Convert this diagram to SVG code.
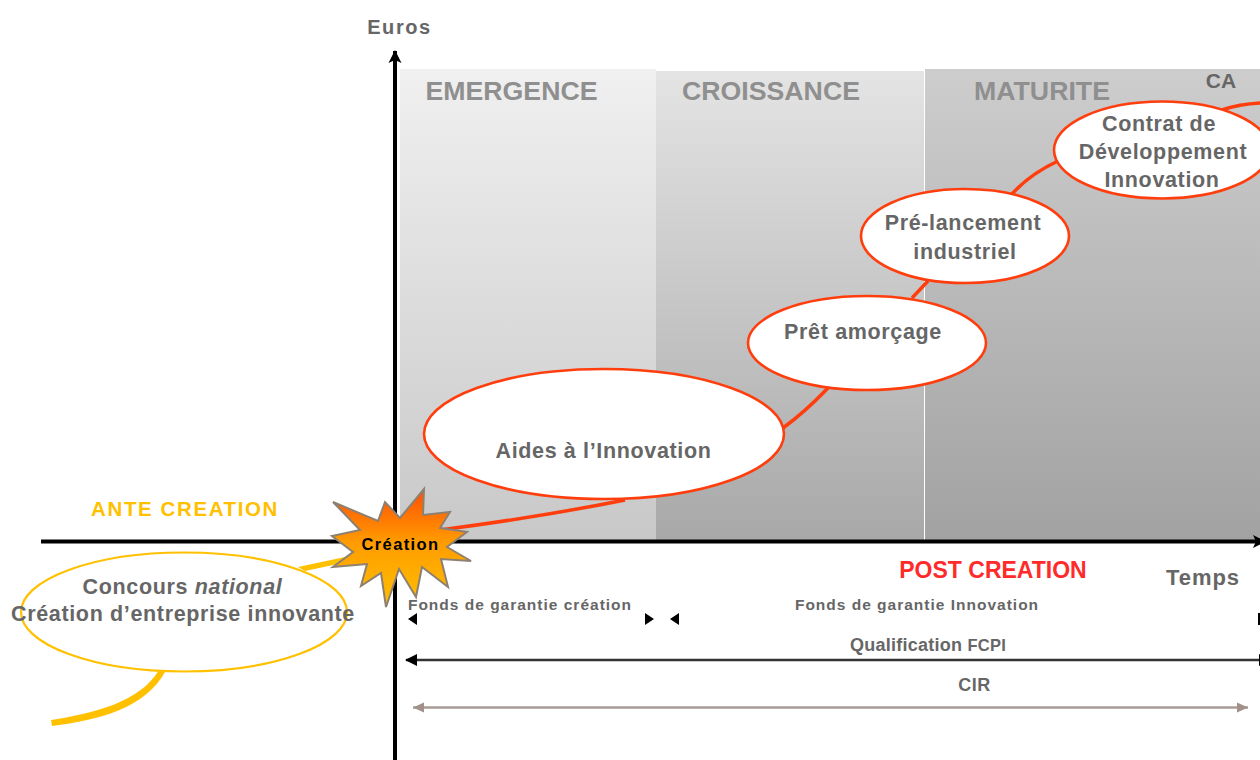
<svg xmlns="http://www.w3.org/2000/svg" width="1260" height="760" viewBox="0 0 1260 760">
<style>
text{font-family:"Liberation Sans",Arial,sans-serif;font-weight:700;fill:#666;text-anchor:middle}
.ph{font-size:26.700px;fill:#8f8f8f}
.n{font-size:21.500px;letter-spacing:.65px}
.s{font-size:15.500px;letter-spacing:1px}
.bub{fill:#fff;stroke:#ff3d0d;stroke-width:2.600}
.cur{fill:none;stroke:#ff3d0d;stroke-width:3.500}
.y{fill:none;stroke:#ffc000}
</style>
<defs>
<linearGradient id="g1" x1="0" y1="0" x2="0" y2="1"><stop offset="0" stop-color="#f0f0f0"/><stop offset="1" stop-color="#c8c8c8"/></linearGradient>
<linearGradient id="g2" x1="0" y1="0" x2="0" y2="1"><stop offset="0" stop-color="#e4e4e4"/><stop offset="1" stop-color="#a8a8a8"/></linearGradient>
<linearGradient id="g3" x1="0" y1="0" x2="0" y2="1"><stop offset="0" stop-color="#cdcdcd"/><stop offset="1" stop-color="#a2a2a2"/></linearGradient>
<linearGradient id="star" x1="0" y1="0" x2="0" y2="1"><stop offset="0" stop-color="#ff4d05"/><stop offset=".45" stop-color="#ff9c00"/><stop offset="1" stop-color="#ffc000"/></linearGradient>
<marker id="ak" markerUnits="userSpaceOnUse" markerWidth="14" markerHeight="14" refX="12" refY="7" orient="auto-start-reverse"><path d="M0 .5L13 7L0 13.500L3 7Z" fill="#000"/></marker>
<marker id="ah" markerUnits="userSpaceOnUse" markerWidth="13" markerHeight="13" refX="11" refY="6.500" orient="auto-start-reverse"><path d="M0 .5L12 6.500L0 12.500Z" fill="#000"/></marker>
<marker id="ag" markerUnits="userSpaceOnUse" markerWidth="12" markerHeight="12" refX="11" refY="6" orient="auto-start-reverse"><path d="M0 1L11 6L0 11Z" fill="#a0918a"/></marker>
</defs>
<g id="phases">
<rect x="400" y="69" width="256" height="472" fill="url(#g1)"/>
<rect x="656" y="71" width="268" height="470" fill="url(#g2)"/>
<rect x="925" y="69" width="335" height="472" fill="url(#g3)"/>
<text class="ph" x="511.500" y="100">EMERGENCE</text>
<text class="ph" x="771" y="100">CROISSANCE</text>
<text class="ph" x="1042" y="100">MATURITE</text>
<text x="1221" y="88" style="font-size:21px">CA</text>
</g>
<g id="connectors">
<path d="M395 760V51" stroke="#000" stroke-width="4" fill="none" marker-end="url(#ak)"/>
<path d="M41 541.500H1265" stroke="#000" stroke-width="4" fill="none" marker-end="url(#ak)"/>
<path class="cur" d="M440 530Q540 517 625 500M783 428Q805 412 828 388M912 298L928 281M1012 194Q1030 174 1058 161M1222 110Q1240 104 1262 103"/>
<path d="M298 567L345 557L352 561L305 571Z" fill="#ffc000"/>
<path d="M159 670C140 702 95 713 51 720L52 726C100 720 145 708 165 672Z" fill="#ffc000"/>
<path d="M406 660H1270" stroke="#333" stroke-width="2.500" fill="none" marker-start="url(#ah)" marker-end="url(#ah)"/>
<path d="M413 707.500H1248" stroke="#a89c96" stroke-width="2.500" fill="none" marker-start="url(#ag)" marker-end="url(#ag)"/>
<path d="M408 619L417 613V625ZM654 619L645 613V625ZM670 619L679 613V625ZM1258 613H1260V625H1258Z" fill="#000"/>
</g>
<g id="node-aides"><ellipse class="bub" cx="604" cy="434" rx="180" ry="65"/><text class="n" x="603.500" y="458">Aides à l’Innovation</text></g>
<g id="node-pret"><ellipse class="bub" cx="867" cy="343" rx="119" ry="47"/><text class="n" x="863" y="339">Prêt amorçage</text></g>
<g id="node-prelancement"><ellipse class="bub" cx="965" cy="236" rx="104" ry="47"/><text class="n" x="963" y="230">Pré-lancement</text><text class="n" x="965" y="259">industriel</text></g>
<g id="node-contrat"><ellipse class="bub" cx="1162" cy="150" rx="108" ry="48.500"/><text class="n" x="1159" y="131">Contrat de</text><text class="n" x="1163" y="159">Développement</text><text class="n" x="1162" y="187">Innovation</text></g>
<g id="node-concours"><ellipse class="y" stroke-width="2.200" fill="#fff" cx="184" cy="612" rx="163" ry="59.500"/><text class="n" x="182.500" y="594"><tspan>Concours </tspan><tspan font-style="italic">national</tspan></text><text class="n" x="183" y="621">Création d’entreprise innovante</text></g>
<g id="node-creation"><path d="M333 502L378 521L385 502L400 518L424 489L423 515L450 512L440 528L467 532L447 547L471 561L441 559L448 587L422 567L416 597L399 569L386 607L381 573L361 586L367 564L333 567L353 552L332 536L360 530Z" fill="url(#star)" stroke="#8d8071" stroke-width="2"/><text x="400.500" y="550" style="font-size:16.500px;letter-spacing:1.400px;fill:#000">Création</text></g>
<g id="labels">
<text x="399.500" y="34" style="font-size:20px;letter-spacing:1.600px">Euros</text>
<text x="185" y="516" style="font-size:20.500px;letter-spacing:1.600px;fill:#ffc000">ANTE CREATION</text>
<text x="993" y="578" style="font-size:23px;fill:#ff2a2a">POST CREATION</text>
<text x="1203" y="585" style="font-size:22px;letter-spacing:.9px">Temps</text>
<text class="s" x="520" y="610">Fonds de garantie création</text>
<text class="s" x="917" y="610">Fonds de garantie Innovation</text>
<text x="928" y="651" style="font-size:18px;letter-spacing:.25px">Qualification <tspan style="font-size:16.500px">FCPI</tspan></text>
<text x="974.500" y="691" style="font-size:18px;letter-spacing:.5px">CIR</text>
</g>
</svg>
